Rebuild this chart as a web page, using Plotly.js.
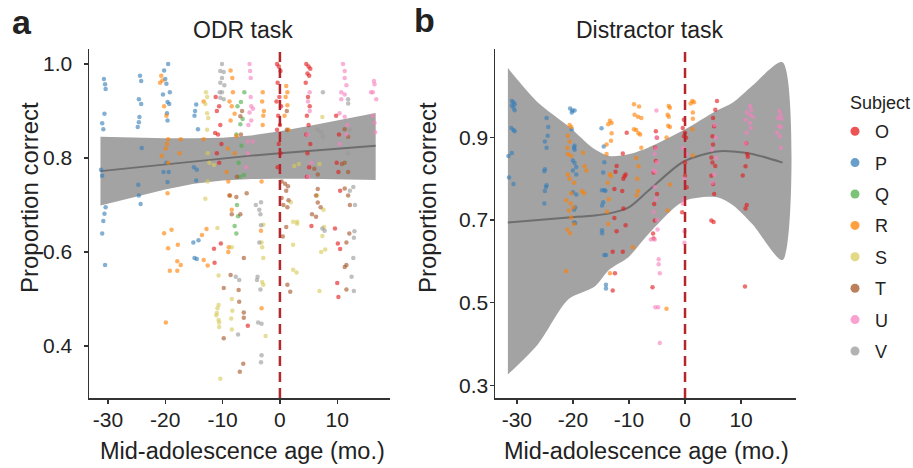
<!DOCTYPE html>
<html><head><meta charset="utf-8">
<script src="https://cdn.plot.ly/plotly-3.0.1.min.js"></script>
<style>html,body{margin:0;padding:0;background:#fff}#chart{width:913px;height:468px}</style>
</head><body><div id="chart"></div>
<script>
// ---------- categories / labels ----------
const subjects = ['O','P','Q','R','S','T','U','V'];
const subjectColors = ['#E41A1C','#377EB8','#4DAF4A','#FF7F00','#D9CB5B','#A65628','#F781BF','#999999'];
const xTickVals = [-30,-20,-10,0,10];
const xTickText = ['-30','-20','-10','0','10'];
const odrYTickVals = [0.4,0.6,0.8,1.0];
const odrYTickText = ['0.4','0.6','0.8','1.0'];
const disYTickVals = [0.3,0.5,0.7,0.9];
const disYTickText = ['0.3','0.5','0.7','0.9'];

// ---------- ODR task (panel a) points ----------
const odr_O_x = [-11.2,-10.6,-11.0,-10.4,-11.3,-10.8,-10.2,-11.0,-10.6,-11.5,-10.3,-11.4,
  -0.5,-0.2,0.1,-0.4,-0.1,-0.6,0.2,-0.3,0.0,-0.5,-0.2,0.1,-0.4,
  4.6,5.0,5.3,4.8,5.1,4.5,4.9,5.2,4.7,5.0,4.6,5.3,4.8,5.1,4.7,5.5,
  9.8,10.3,9.9,10.2,10.5,9.6,10.1,10.5,10.0,10.2,-5.6];
const odr_O_y = [0.93,0.91,0.90,0.87,0.853,0.85,0.83,0.81,0.79,0.607,0.618,0.577,
  1.0,0.995,0.985,0.96,0.93,0.92,0.91,0.89,0.87,0.86,0.83,0.81,0.78,
  1.0,0.995,0.99,0.98,0.975,0.96,0.93,0.91,0.89,0.87,0.85,0.83,0.81,0.78,0.76,0.655,
  0.89,0.85,0.79,0.77,0.73,0.65,0.618,0.606,0.534,0.504,0.443];
const odr_P_x = [-30.7,-30.5,-30.4,-30.6,-31.0,-30.8,-31.2,-31.0,-30.4,-30.6,-30.8,-31.0,-30.5,
  -24.4,-24.2,-24.6,-24.2,-24.5,-24.6,-24.8,-24.1,-24.7,-24.6,-24.3,
  -19.5,-20.2,-20.0,-19.8,-19.2,-20.4,-19.6,-19.3,-19.7,-19.6,-19.8,-20.3,-19.4,-19.6,
  -14.6,-14.8,-14.9,-14.3,-15.0,-14.5,-14.6,-15.1,-14.2,-14.9,-14.5];
const odr_P_y = [0.968,0.957,0.947,0.894,0.874,0.861,0.775,0.762,0.695,0.681,0.666,0.639,0.572,
  0.975,0.964,0.925,0.915,0.887,0.876,0.866,0.821,0.743,0.72,0.702,
  1.0,0.986,0.968,0.958,0.94,0.935,0.919,0.915,0.895,0.88,0.79,0.77,0.77,0.749,
  0.914,0.90,0.89,0.861,0.78,0.775,0.752,0.62,0.625,0.587,0.585];
const odr_Q_x = [-6.2,-6.8,-7.4,-6.5,-6.9,-7.6,-6.7,-7.2,-6.3,-7.0,-7.5,-7.3,-7.9,-7.6];
const odr_Q_y = [0.94,0.919,0.91,0.883,0.872,0.85,0.826,0.79,0.764,0.76,0.70,0.676,0.655,0.639];
const odr_R_x = [-20.7,-20.5,-20.9,-20.2,-19.8,-19.5,-19.7,-19.9,-20.6,-19.5,-19.6,-19.9,
  -17.3,-17.5,-18.9,-20.2,-19.5,-17.8,-17.9,-17.3,-19.2,-17.9,
  -13.3,-13.3,-12.8,-13.6,-13.3,-12.6,
  -8.6,-8.3,-8.2,-8.8,-8.4,-7.9,-8.6,-7.6,-9.1,-7.9,-9.3,-9.0,-8.7,-8.4,-8.9,-9.0,
  -3.0,-3.1,-2.8,-2.9,-3.0,-3.2,-3.3,-3.2,
  1.1,1.3,1.0,1.3,0.8,1.5];
const odr_R_y = [0.975,0.965,0.96,0.91,0.89,0.84,0.83,0.82,0.805,0.79,0.725,0.45,
  0.84,0.81,0.647,0.64,0.608,0.615,0.58,0.572,0.56,0.56,
  0.84,0.92,0.649,0.636,0.583,0.571,
  0.986,0.97,0.94,0.92,0.91,0.894,0.88,0.847,0.82,0.81,0.77,0.75,0.72,0.69,0.61,0.60,
  0.94,0.92,0.90,0.89,0.87,0.75,0.645,0.48,
  0.953,0.94,0.93,0.912,0.89,0.86];
const odr_S_x = [-12.9,-12.7,-13.0,-12.7,-12.5,-12.7,-12.6,-12.3,-11.5,-12.6,-13.0,-10.9,-8.4,-10.7,-10.7,-10.9,-11.1,-10.7,-10.6,-11.0,-10.6,-10.4,-8.4,-8.3,-8.5,-8.4,
  -2.9,-3.2,-3.1,-2.9,-3.1,-2.9,-2.5,
  3.0,2.3,2.3,2.9,2.5,3.3,1.9,2.3,3.0,
  7.7,7.4,7.2,7.9,6.9,6.9,7.4,7.6,6.5];
const odr_S_y = [0.94,0.93,0.915,0.895,0.885,0.86,0.81,0.79,0.785,0.75,0.713,0.651,0.61,0.55,0.487,0.48,0.465,0.455,0.45,0.47,0.44,0.33,0.50,0.475,0.458,0.435,
  0.658,0.62,0.61,0.587,0.536,0.53,0.421,
  0.66,0.615,0.562,0.556,0.783,0.787,0.706,0.664,0.664,
  0.653,0.634,0.60,0.605,0.517,0.787,0.887,0.69,0.72];
const odr_T_x = [-6.9,-6.8,-7.6,-8.8,-5.8,-8.4,-6.9,-6.6,-6.3,-9.8,-7.2,-7.1,-6.3,-6.3,-9.8,-6.4,-7.0,-7.5,-8.6,
  1.2,1.2,0.3,0.9,1.4,1.1,0.3,1.5,0.6,1.3,1.1,0.5,1.3,1.8,
  6.0,6.6,6.6,6.3,6.6,7.1,5.6,6.3,
  11.3,11.9,11.3,10.8,11.9,11.3,11.9,12.2,12.1,11.6,11.6,11.3,11.6];
const odr_T_y = [0.889,0.85,0.717,0.72,0.725,0.68,0.68,0.90,0.587,0.523,0.519,0.494,0.471,0.46,0.416,0.362,0.345,0.76,0.551,
  0.90,0.86,0.75,0.745,0.74,0.73,0.715,0.71,0.70,0.695,0.653,0.633,0.53,0.515,
  0.777,0.765,0.734,0.72,0.705,0.695,0.68,0.675,
  0.861,0.845,0.79,0.787,0.77,0.735,0.72,0.70,0.639,0.62,0.572,0.568,0.52];
const odr_U_x = [-5.3,-5.2,-5.1,-5.1,-5.0,-4.7,-5.3,-5.0,-5.5,-5.6,-4.7,-5.6,-5.9,
  5.2,4.9,5.2,4.8,5.5,4.9,
  11.0,11.3,11.3,11.6,10.7,11.3,10.7,10.4,11.3,11.8,11.6,10.4,
  16.4,16.5,16.2,15.9,16.8,16.2,16.5,16.6];
const odr_U_y = [1.0,0.985,0.97,0.93,0.91,0.905,0.897,0.88,0.87,0.835,0.835,0.81,0.78,
  0.94,0.92,0.90,0.85,0.79,0.76,
  1.0,0.985,0.97,0.955,0.94,0.935,0.925,0.895,0.888,0.87,0.85,0.83,
  0.964,0.957,0.94,0.94,0.925,0.89,0.875,0.855];
const odr_V_x = [-10.1,-10.4,-9.8,-10.1,-10.4,-9.7,-10.1,-10.5,-10.4,-9.8,-7.7,-7.1,-7.3,
  -3.3,-3.6,-3.9,-4.0,-3.4,-3.8,-3.2,-3.2,-3.3,-3.3,-4.2,-3.6,-3.4,
  7.5,6.6,7.2,7.5,7.4,7.8,
  11.9,11.9,12.2,11.9,12.8,12.2,13.1,13.0,12.9,12.8,12.5,12.9];
const odr_V_y = [1.0,0.985,0.983,0.97,0.96,0.955,0.94,0.94,0.928,0.925,0.547,0.54,0.424,
  0.657,0.62,0.547,0.54,0.52,0.45,0.447,0.38,0.365,0.706,0.70,0.69,0.68,
  0.94,0.86,0.855,0.845,0.65,0.645,
  0.925,0.916,0.86,0.81,0.738,0.73,0.70,0.644,0.63,0.587,0.547,0.517];

// ---------- ODR fit band ----------
const odrFitX = [-31.3,-25,-20,-15,-10,-5,0,5,10,16.7];
const odrFitMid = [0.772,0.780,0.787,0.793,0.799,0.805,0.810,0.815,0.819,0.826];
const odrFitUpper = [0.845,0.843,0.842,0.842,0.843,0.848,0.857,0.868,0.880,0.896];
const odrFitLower = [0.699,0.718,0.733,0.745,0.752,0.755,0.756,0.756,0.755,0.753];

// ---------- Distractor task (panel b) points ----------
const dis_O_x = [-10.4,-11.1,-12.2,-10.6,-10.8,-11.0,-11.2,-12.6,-11.0,-12.6,-12.2,-10.6,-12.9,-11.1,-12.5,-12.9,-12.4,
  -5.2,-5.0,-5.3,-5.2,-5.6,-5.0,-5.5,-5.4,-5.7,-5.6,-5.8,
  -0.2,-0.4,0.0,-0.2,0.2,0.0,0.0,0.3,-0.5,
  5.7,5.4,5.0,5.2,4.9,5.0,4.7,4.9,5.4,4.7,5.0,5.2,4.7,5.1,10.7,
  10.9,11.1,11.2,10.8,10.3,11.0,10.8];
const dis_O_y = [0.911,0.861,0.831,0.81,0.806,0.80,0.77,0.775,0.728,0.705,0.673,0.687,0.623,0.623,0.571,0.529,0.817,
  0.915,0.899,0.875,0.843,0.815,0.763,0.739,0.699,0.667,0.655,0.537,
  0.943,0.923,0.911,0.903,0.899,0.839,0.807,0.779,0.719,
  0.988,0.967,0.947,0.927,0.903,0.883,0.851,0.839,0.831,0.807,0.787,0.763,0.699,0.695,0.539,
  0.886,0.86,0.853,0.83,0.808,0.736,0.728];
const dis_P_x = [-30.9,-30.6,-30.4,-30.9,-30.6,-30.4,-31.0,-30.6,-30.4,-31.5,-30.9,-31.4,-30.6,
  -24.7,-24.4,-24.5,-25.0,-24.7,-25.0,-25.1,-24.7,-24.8,-25.0,-25.1,
  -20.5,-20.1,-19.7,-20.2,-20.2,-19.7,-19.8,-19.7,-20.0,-19.7,-19.4,-20.0,-19.4,-20.0,-19.4,-19.6,-19.8,-19.8,-19.6,
  -14.9,-14.5,-14.4,-14.6,-14.8,-14.4,-14.2,-14.6,-14.8,-14.8,-14.8,-14.4,-14.1,-14.1,-14.1];
const dis_P_y = [0.988,0.985,0.98,0.977,0.972,0.966,0.923,0.918,0.915,0.855,0.862,0.803,0.787,
  0.947,0.925,0.904,0.89,0.875,0.823,0.818,0.784,0.78,0.77,0.74,
  0.97,0.965,0.965,0.96,0.92,0.88,0.875,0.87,0.844,0.838,0.828,0.82,0.81,0.767,0.762,0.73,0.725,0.694,0.693,
  0.922,0.878,0.84,0.815,0.772,0.772,0.771,0.743,0.735,0.675,0.668,0.615,0.615,0.543,0.534];
const dis_R_x = [-20.6,-20.3,-20.9,-20.6,-21.0,-20.9,-20.3,-20.9,-20.6,-19.8,-20.3,-21.2,-20.4,-19.9,-20.7,-20.3,-19.8,-21.0,-20.5,-21.2,
  -18.2,-17.9,-17.6,-18.4,-18.0,
  -14.0,-13.4,-13.7,-13.1,-13.1,-13.2,-14.0,-13.4,-13.2,-13.8,-13.6,-13.9,-13.7,-13.4,
  -9.1,-8.2,-9.0,-8.4,-7.8,-9.1,-8.7,-8.3,-8.0,-7.8,-8.7,-8.3,-8.5,-8.4,-8.6,-9.3,
  -2.9,-2.7,-3.1,-2.9,-3.0,-2.7,-3.3,-2.7,-3.1,-3.3,
  1.3,1.6,1.0,1.4,1.4,1.3,1.4];
const dis_R_y = [0.93,0.925,0.904,0.89,0.875,0.86,0.855,0.81,0.80,0.79,0.765,0.748,0.74,0.73,0.723,0.706,0.69,0.677,0.668,0.576,
  0.863,0.83,0.82,0.77,0.765,
  0.883,0.94,0.932,0.935,0.91,0.892,0.86,0.811,0.806,0.79,0.75,0.72,0.69,0.571,
  0.98,0.975,0.955,0.95,0.947,0.92,0.918,0.91,0.907,0.875,0.85,0.83,0.80,0.77,0.76,0.634,
  0.976,0.972,0.955,0.95,0.928,0.925,0.90,0.786,0.723,0.485,
  0.988,0.985,0.982,0.96,0.945,0.92,0.856];
const dis_U_x = [-5.1,-5.1,-5.2,-5.4,-5.0,-5.6,-5.3,-5.4,-5.2,-5.6,-5.0,-4.9,-6.1,-5.4,-4.7,-4.7,-4.5,-5.3,-4.8,-4.5,
  -0.4,0.2,-0.1,-0.3,-0.4,-0.1,-0.1,
  5.3,5.5,4.8,5.6,5.2,4.9,
  11.6,11.8,11.0,11.6,12.1,10.8,11.6,11.8,11.0,10.8,
  16.8,17.1,16.6,17.2,16.8,17.1,16.4,16.9,17.1];
const dis_U_y = [0.965,0.90,0.873,0.86,0.84,0.82,0.817,0.78,0.75,0.72,0.70,0.677,0.653,0.653,0.605,0.593,0.571,0.489,0.489,0.402,
  0.875,0.86,0.80,0.749,0.74,0.673,0.645,
  0.93,0.90,0.87,0.85,0.81,0.79,
  0.976,0.967,0.96,0.955,0.95,0.943,0.935,0.923,0.911,0.886,
  0.964,0.955,0.947,0.945,0.927,0.925,0.911,0.903,0.875];

// ---------- Distractor fit band ----------
const disFitX = [-31.6,-26.2,-20.8,-16.1,-13.5,-10.1,-6.6,-0.3,5.7,8.6,12,17.4];
const disFitMid = [0.694,0.700,0.706,0.711,0.716,0.730,0.770,0.841,0.866,0.866,0.860,0.839];
const disFitUpper = [1.068,0.984,0.927,0.871,0.855,0.859,0.875,0.917,0.965,0.985,1.025,1.082];
const disFitLower = [0.326,0.40,0.508,0.539,0.58,0.61,0.665,0.745,0.755,0.735,0.69,0.603];

// ---------- build ----------
const FONT = 'Liberation Sans, Arial, Helvetica, sans-serif';
const odrPts = {O:[odr_O_x,odr_O_y],P:[odr_P_x,odr_P_y],Q:[odr_Q_x,odr_Q_y],R:[odr_R_x,odr_R_y],
  S:[odr_S_x,odr_S_y],T:[odr_T_x,odr_T_y],U:[odr_U_x,odr_U_y],V:[odr_V_x,odr_V_y]};
const disPts = {O:[dis_O_x,dis_O_y],P:[dis_P_x,dis_P_y],R:[dis_R_x,dis_R_y],U:[dis_U_x,dis_U_y]};

function bandTrace(xs, up, lo, xa, ya, shape){
  return {x: xs.concat(xs.slice().reverse()), y: up.concat(lo.slice().reverse()),
    xaxis: xa, yaxis: ya, mode:'lines', fill:'toself', fillcolor:'rgba(153,153,153,0.9)',
    line:{width:0, shape:shape, smoothing:0.8, color:'rgba(0,0,0,0)'}, hoverinfo:'skip', showlegend:false};
}
function lineTrace(xs, ys, xa, ya, shape){
  return {x: xs, y: ys, xaxis: xa, yaxis: ya, mode:'lines',
    line:{color:'#6e6e6e', width:2, shape:shape, smoothing:0.8}, hoverinfo:'skip', showlegend:false};
}
const traces = [];
traces.push(bandTrace(odrFitX, odrFitUpper, odrFitLower, 'x', 'y', 'linear'));
traces.push(bandTrace(disFitX, disFitUpper, disFitLower, 'x2', 'y2', 'spline'));
traces.push(lineTrace(odrFitX, odrFitMid, 'x', 'y', 'linear'));
traces.push(lineTrace(disFitX, disFitMid, 'x2', 'y2', 'spline'));
subjects.forEach((s, i) => {
  const c = subjectColors[i];
  if (odrPts[s]) traces.push({x: odrPts[s][0], y: odrPts[s][1], xaxis:'x', yaxis:'y', mode:'markers', name:s,
    legendgroup:s, showlegend:false, marker:{color:c, size:4.5, opacity:0.62}});
  if (disPts[s]) traces.push({x: disPts[s][0], y: disPts[s][1], xaxis:'x2', yaxis:'y2', mode:'markers', name:s,
    legendgroup:s, showlegend:false, marker:{color:c, size:4.5, opacity:0.62}});
});
// legend entries
subjects.forEach((s, i) => {
  traces.push({x:[null], y:[null], xaxis:'x', yaxis:'y', mode:'markers', name:s, legendgroup:s,
    showlegend:true, marker:{color:subjectColors[i], size:9, opacity:0.75}});
});

function xAxis(domain, range){
  return {domain: domain, range: range, tickvals: xTickVals, ticktext: xTickText, showline:true,
    linecolor:'#333', linewidth:1.5, ticks:'outside', ticklen:4, tickwidth:1.3, tickcolor:'#333',
    showgrid:false, zeroline:false, tickfont:{family:FONT, size:21, color:'#222'}, ticklabelstandoff:-2, fixedrange:true};
}
function yAxis(domain, range, vals, text, standoff){
  return {domain: domain, range: range, tickvals: vals, ticktext: text, showline:true,
    linecolor:'#333', linewidth:1.5, ticks:'outside', ticklen:4, tickwidth:1.3, tickcolor:'#333',
    showgrid:false, zeroline:false, tickfont:{family:FONT, size:21, color:'#222'}, ticklabelstandoff:standoff, fixedrange:true};
}
const W = 913, H = 468;
const px = v => v / W, py = v => 1 - v / H;
const yDom = [1 - 398/H, 1 - 49/H];
const layout = {
  width: W, height: H, margin:{l:0, r:0, t:0, b:0}, paper_bgcolor:'#fff', plot_bgcolor:'rgba(0,0,0,0)',
  font:{family:FONT, color:'#222'},
  xaxis: Object.assign(xAxis([px(89), px(390)], [-33.3, 19.2]), {anchor:'y'}),
  yaxis: Object.assign(yAxis(yDom, [0.289, 1.032], odrYTickVals, odrYTickText, 7), {anchor:'x'}),
  xaxis2: Object.assign(xAxis([px(495), px(796)], [-33.9, 19.8]), {anchor:'y2'}),
  yaxis2: Object.assign(yAxis(yDom, [0.269, 1.114], disYTickVals, disYTickText, -3), {anchor:'x2'}),
  showlegend: true,
  legend: {x: px(835), y: py(113), xanchor:'left', yanchor:'top', font:{family:FONT, size:18, color:'#222'},
    tracegroupgap: 5, bgcolor:'rgba(0,0,0,0)', itemclick:false, itemdoubleclick:false},
  shapes: [
    {type:'line', xref:'x', yref:'y domain', x0:0, x1:0, y0:0, y1:1, layer:'above',
      line:{color:'#B5272D', width:2.5, dash:'10px,6px'}},
    {type:'line', xref:'x2', yref:'y2 domain', x0:0, x1:0, y0:0, y1:1, layer:'above',
      line:{color:'#B5272D', width:2.5, dash:'10px,6px'}}
  ],
  annotations: [
    {text:'<b>a</b>', xref:'paper', yref:'paper', x:px(22), y:py(22), xanchor:'center', yanchor:'middle', showarrow:false, font:{family:FONT, size:34, color:'#222'}},
    {text:'<b>b</b>', xref:'paper', yref:'paper', x:px(424), y:py(20), xanchor:'center', yanchor:'middle', showarrow:false, font:{family:FONT, size:34, color:'#222'}},
    {text:'ODR task', xref:'paper', yref:'paper', x:px(243), y:py(30), xanchor:'center', yanchor:'middle', showarrow:false, font:{family:FONT, size:23, color:'#222'}},
    {text:'Distractor task', xref:'paper', yref:'paper', x:px(649), y:py(30), xanchor:'center', yanchor:'middle', showarrow:false, font:{family:FONT, size:23, color:'#222'}},
    {text:'Mid-adolescence age (mo.)', xref:'paper', yref:'paper', x:px(242), y:py(451), xanchor:'center', yanchor:'middle', showarrow:false, font:{family:FONT, size:23.5, color:'#222'}},
    {text:'Mid-adolescence age (mo.)', xref:'paper', yref:'paper', x:px(646), y:py(451), xanchor:'center', yanchor:'middle', showarrow:false, font:{family:FONT, size:23.5, color:'#222'}},
    {text:'Proportion correct', xref:'paper', yref:'paper', x:px(29), y:py(198), xanchor:'center', yanchor:'middle', textangle:-90, showarrow:false, font:{family:FONT, size:24, color:'#222'}},
    {text:'Proportion correct', xref:'paper', yref:'paper', x:px(427), y:py(198), xanchor:'center', yanchor:'middle', textangle:-90, showarrow:false, font:{family:FONT, size:24, color:'#222'}},
    {text:'Subject', xref:'paper', yref:'paper', x:px(848), y:py(103), xanchor:'left', yanchor:'middle', showarrow:false, font:{family:FONT, size:18, color:'#222'}}
  ]
};
Plotly.newPlot('chart', traces, layout, {displayModeBar:false, staticPlot:true});
</script></body></html>
